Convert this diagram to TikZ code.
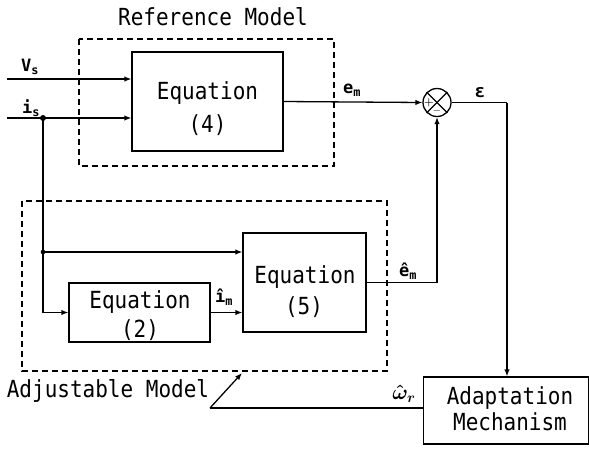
\documentclass[tikz,border=0pt]{standalone}
\usepackage{fontspec}
\setmonofont{DejaVu Sans Mono}
\usetikzlibrary{arrows.meta}
\newcommand\mytx[1]{\scalebox{1}[1.12]{#1}}
\begin{document}
\begin{tikzpicture}[x=1pt,y=-1pt,
  blk/.style={draw, line width=1.3pt, inner sep=0pt},
  dbox/.style={draw, dash pattern=on 6pt off 4pt, line width=1.2pt},
  txt/.style={font=\ttfamily\fontsize{21}{21}\selectfont, inner sep=0pt},
  lbl/.style={font=\ttfamily\bfseries\fontsize{17}{17}\selectfont, inner sep=0pt},
  con/.style={line width=1.3pt, -{Latex[length=7pt,width=5.5pt]}},
  ln/.style={line width=1.3pt}]
\useasboundingbox (0,0) rectangle (589,448);
% dashed model frames
\draw[dbox] (79,39) rectangle (334,166);
\draw[dbox] (22,201) rectangle (387,371);
\node[txt] (reft) at (213,17) {\mytx{Reference Model}};
\node[txt] (adjt) at (108,391) {\mytx{Adjustable Model}};
% blocks
\node[blk, minimum width=151pt, minimum height=99pt] (eq4) at (207.5,101.5) {};
\node[txt] (eq4a) at (207.5,93) {\mytx{Equation}};
\node[txt] (eq4b) at (207.5,125) {\mytx{(4)}};
\node[blk, minimum width=141pt, minimum height=59pt] (eq2) at (139.5,312.5) {};
\node[txt] (eq2a) at (140,302) {\mytx{Equation}};
\node[txt] (eq2b) at (140,330) {\mytx{(2)}};
\node[blk, minimum width=123pt, minimum height=99pt] (eq5) at (304.5,282.5) {};
\node[txt] (eq5a) at (305,277) {\mytx{Equation}};
\node[txt] (eq5b) at (304,307) {\mytx{(5)}};
\node[blk, minimum width=165.5pt, minimum height=67pt] (adapt) at (506,410.5) {};
\node[txt] (ada) at (510,398) {\mytx{Adaptation}};
\node[txt] (adb) at (510,422) {\mytx{Mechanism}};
% summing junction
\node[draw, circle, line width=1.3pt, minimum size=28pt, inner sep=0pt] (sum) at (437,102.5) {};
\draw[ln] (sum.north east) -- (sum.south west);
\draw[ln] (sum.north west) -- (sum.south east);
\node[font=\bfseries\fontsize{11}{11}\selectfont, inner sep=0pt] (plus) at (429,102.5) {+};
\node[font=\bfseries\fontsize{11}{11}\selectfont, inner sep=0pt] (minus) at (437,111) {$-$};
% inputs
\coordinate (vsin) at (7,79);
\coordinate (isin) at (7,118);
\coordinate (j1) at (43,118);
\coordinate (j2) at (43,252);
\node[lbl] (vsl) at (30,67) {V\textsubscript{s}};
\node[lbl] (isl) at (31,108) {i\textsubscript{s}};
\draw[con] (vsin) -- (vsin -| eq4.west);
\draw[con] (isin) -- (isin -| eq4.west);
\fill (j1) circle (3pt);
\fill (j2) circle (2.3pt);
\draw[ln] (j1) -- (j2);
\draw[con] (j2) -- (j2 -| eq5.west);
\draw[con] (j2) |- (eq2.west);
\draw[con] (eq2.east) -- (eq2.east -| eq5.west);
\node[lbl] (iml) at (224,297) {î\textsubscript{m}};
% outputs
\draw[con] (eq4.east) -- (sum.west);
\node[lbl] (eml) at (352,90) {e\textsubscript{m}};
\draw[con] (eq5.east) -| (sum.south);
\node[lbl] (ehl) at (408,271) {ê\textsubscript{m}};
\coordinate (ec) at (507,102.5);
\draw[ln] (sum.east) -- (ec);
\draw[con] (ec) -- (ec |- adapt.north);
\node[lbl, font=\ttfamily\bfseries\fontsize{18}{18}\selectfont] (epsl) at (480,93) {ε};
% adaptation feedback
\coordinate (wk) at (210,408);
\coordinate (wt) at (242,373);
\draw[ln] (wk -| adapt.west) -- (wk);
\draw[con] (wk) -- (wt);
\node[inner sep=0pt, font=\fontsize{21}{21}\selectfont\boldmath] (wl) at (404,394) {$\hat{\omega}_{r}$};
\end{tikzpicture}
\end{document}
